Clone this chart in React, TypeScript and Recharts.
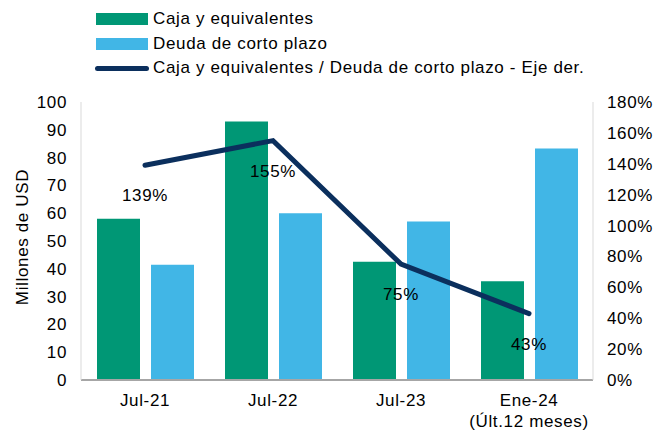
import { ComposedChart, Bar, Line, XAxis, YAxis, Legend, LabelList } from 'recharts';

const categories = ['Jul-21', 'Jul-22', 'Jul-23', 'Ene-24'];
const subLabels = ['', '', '', '(Últ.12 meses)'];
const caja = [58, 93, 42.5, 35.5];
const deuda = [41.5, 60, 57, 83.3];
const ratio = [139, 155, 75, 43];

const leftTicks = [0, 10, 20, 30, 40, 50, 60, 70, 80, 90, 100];
const rightTicks = [0, 20, 40, 60, 80, 100, 120, 140, 160, 180];

const GREEN = '#009775';
const BLUE = '#41B6E6';
const NAVY = '#0B2F5D';
const FONT = '"Liberation Sans", Arial, sans-serif';
const FS = 17;
const LS = 0.65;

const data = categories.map((c, i) => ({
  name: c,
  caja: caja[i],
  deuda: deuda[i],
  ratio: ratio[i],
}));

const legendItems = [
  { label: 'Caja y equivalentes', color: GREEN, kind: 'bar' },
  { label: 'Deuda de corto plazo', color: BLUE, kind: 'bar' },
  { label: 'Caja y equivalentes / Deuda de corto plazo - Eje der.', color: NAVY, kind: 'line' },
];

const ChartLegend = () => (
  <div
    style={{
      position: 'absolute',
      left: 96,
      top: 7,
      fontFamily: FONT,
      fontSize: FS,
      letterSpacing: LS,
      color: '#000',
      zIndex: 1,
    }}
  >
    {legendItems.map((it) => (
      <div key={it.label} style={{ display: 'flex', alignItems: 'center', height: 24.5 }}>
        {it.kind === 'bar' ? (
          <div style={{ width: 52, height: 12, background: it.color }} />
        ) : (
          <div style={{ width: 54, height: 5, background: it.color, borderRadius: 3, marginLeft: -1, marginRight: -1 }} />
        )}
        <span style={{ marginLeft: 5 }}>{it.label}</span>
      </div>
    ))}
  </div>
);

const CategoryTick = (props: any) => {
  const { x, y, payload, index } = props;
  const sub = subLabels[index] || '';
  return (
    <g>
      <text x={x} y={y + 18} textAnchor="middle" fontFamily={FONT} fontSize={FS} letterSpacing={LS} fill="#000">
        {payload.value}
      </text>
      {sub && (
        <text x={x} y={y + 39} textAnchor="middle" fontFamily={FONT} fontSize={FS} letterSpacing={LS} fill="#000">
          {sub}
        </text>
      )}
    </g>
  );
};

const RatioLabel = (props: any) => {
  const { x, y, value } = props;
  return (
    <text x={x} y={y + 36} textAnchor="middle" fontFamily={FONT} fontSize={FS} letterSpacing={LS} fill="#000">
      {value}%
    </text>
  );
};

export default function App() {
  return (
    <div style={{ position: 'absolute', left: 0, top: 0, width: 657, height: 433, background: '#fff' }}>
      <ChartLegend />
      <ComposedChart
        width={657}
        height={433}
        data={data}
        margin={{ top: 102, right: 0, left: 0, bottom: 0 }}
        barCategoryGap="12.5%"
        barGap={11}
      >
        <XAxis
          dataKey="name"
          height={53}
          axisLine={{ stroke: '#a6a6a6', strokeWidth: 2 }}
          tickLine={false}
          tick={<CategoryTick />}
          interval={0}
        />
        <YAxis
          yAxisId="left"
          domain={[0, 100]}
          ticks={leftTicks}
          width={81}
          tickSize={0}
          tickMargin={14}
          axisLine={{ stroke: '#d9d9d9' }}
          tickLine={false}
          tick={{ fontFamily: FONT, fontSize: FS, fill: '#000', letterSpacing: LS }}
          label={{
            value: 'Millones de USD',
            angle: -90,
            position: 'center',
            dx: -19,
            dy: -4,
            style: { fontFamily: FONT, fontSize: FS, letterSpacing: LS, fill: '#000', textAnchor: 'middle' },
          }}
        />
        <YAxis
          yAxisId="right"
          orientation="right"
          domain={[0, 180]}
          ticks={rightTicks}
          width={64}
          tickSize={0}
          tickMargin={14}
          axisLine={{ stroke: '#d9d9d9' }}
          tickLine={false}
          tickFormatter={(v: number) => `${v}%`}
          tick={{ fontFamily: FONT, fontSize: FS, fill: '#000', letterSpacing: LS, textAnchor: 'start' }}
        />
        <Bar yAxisId="left" dataKey="caja" fill={GREEN} isAnimationActive={false} />
        <Bar yAxisId="left" dataKey="deuda" fill={BLUE} isAnimationActive={false} />
        <Line
          yAxisId="right"
          dataKey="ratio"
          stroke={NAVY}
          strokeWidth={5}
          strokeLinecap="round"
          strokeLinejoin="miter"
          type="linear"
          dot={false}
          activeDot={false}
          isAnimationActive={false}
        >
          <LabelList dataKey="ratio" content={<RatioLabel />} />
        </Line>
        <Legend content={() => null} />
      </ComposedChart>
    </div>
  );
}
